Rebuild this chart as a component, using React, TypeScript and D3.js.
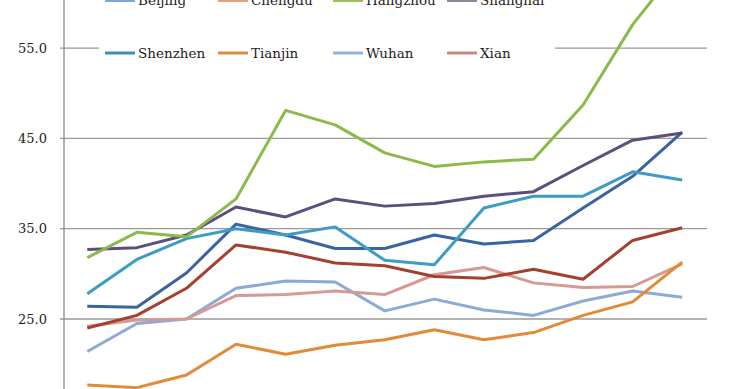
import React from "react";
import * as d3 from "d3";

const categories = ["1","2","3","4","5","6","7","8","9","10","11","12","13"];
const seriesNames = ["Beijing","Chengdu","Hangzhou","Shanghai","Shenzhen","Tianjin","Wuhan","Xian"];
const seriesColors = ["#3a64a0","#e28a38","#8bba4a","#5c4e7e","#3c9cc4","#a5402e","#8caad6","#d69a92"];
const legendColors = ["#7fa6d8","#e3a07e","#9bc060","#8a8a9a","#3c8cb8","#d98c48","#95b0d8","#c88a80"];

const beijing = [26.4, 26.3, 30.1, 35.5, 34.3, 32.8, 32.8, 34.3, 33.3, 33.7, 37.3, 40.8, 45.7];
const chengdu = [17.7, 17.4, 18.8, 22.2, 21.1, 22.1, 22.7, 23.8, 22.7, 23.5, 25.4, 26.9, 31.3];
const hangzhou = [31.8, 34.6, 34.1, 38.3, 48.1, 46.5, 43.4, 41.9, 42.4, 42.7, 48.7, 57.6, 64.5];
const shanghai = [32.7, 32.9, 34.3, 37.4, 36.3, 38.3, 37.5, 37.8, 38.6, 39.1, 42.0, 44.8, 45.6];
const shenzhen = [27.8, 31.6, 33.9, 35.0, 34.3, 35.2, 31.5, 31.0, 37.3, 38.6, 38.6, 41.3, 40.4];
const tianjin = [24.0, 25.4, 28.4, 33.2, 32.4, 31.2, 30.9, 29.7, 29.5, 30.5, 29.4, 33.7, 35.1];
const wuhan = [21.4, 24.5, 25.0, 28.4, 29.2, 29.1, 25.9, 27.2, 26.0, 25.4, 27.0, 28.1, 27.4];
const xian = [24.2, 24.9, 25.0, 27.6, 27.7, 28.1, 27.7, 29.9, 30.7, 29.0, 28.5, 28.6, 31.1];

const yTicks = [25, 35, 45, 55];

const seriesData = [beijing, chengdu, hangzhou, shanghai, shenzhen, tianjin, wuhan, xian];
const drawOrder = [6, 7, 1, 5, 0, 4, 3, 2];

export default function App() {
  const W = 740, H = 389;
  const x = d3.scaleBand<string>().domain(categories).range([62.5, 707]);
  const y = d3.scaleLinear().domain([25, 55]).range([319, 48.1]);
  const cx = (c: string) => (x(c) as number) + x.bandwidth() / 2;
  const line = d3.line<number>()
    .x((_, i) => cx(categories[i]))
    .y((v) => y(v));
  const axisX = 64;
  const fontStyle = { fontFamily: '"DejaVu Serif", "Liberation Serif", serif' };

  const legendCols = [105, 218, 333, 447];
  const legendRows = [0.5, 53];

  return (
    <svg width={W} height={H} style={{ position: "absolute", left: 0, top: 0, background: "#fff" }}>
      <rect x={0} y={0} width={W} height={H} fill="#fff" />
      {yTicks.map((t) => (
        <g key={t}>
          <line x1={axisX - 4} x2={707} y1={y(t)} y2={y(t)} stroke="#9a9a9a" strokeWidth={1.3} />
          <text x={47} y={y(t)} dy="0.35em" textAnchor="end" style={fontStyle} fontSize={13} fill="#222">
            {d3.format(".1f")(t)}
          </text>
        </g>
      ))}
      <line x1={axisX} x2={axisX} y1={0} y2={H} stroke="#8a8a8a" strokeWidth={1.3} />
      {drawOrder.map((i) => (
        <path key={seriesNames[i]} d={line(seriesData[i]) || ""} fill="none" stroke={seriesColors[i]} strokeWidth={3} strokeLinejoin="round" />
      ))}
      <rect x={99} y={0} width={456} height={64} fill="#fff" />
      {seriesNames.map((name, i) => {
        const col = i % 4;
        const row = Math.floor(i / 4);
        const lx = legendCols[col];
        const ly = legendRows[row];
        return (
          <g key={name}>
            <line x1={lx} x2={lx + 30} y1={ly} y2={ly} stroke={legendColors[i]} strokeWidth={3} />
            <text x={lx + 33} y={ly} dy="0.35em" style={fontStyle} fontSize={13.5} fill="#222">{name}</text>
          </g>
        );
      })}
    </svg>
  );
}
